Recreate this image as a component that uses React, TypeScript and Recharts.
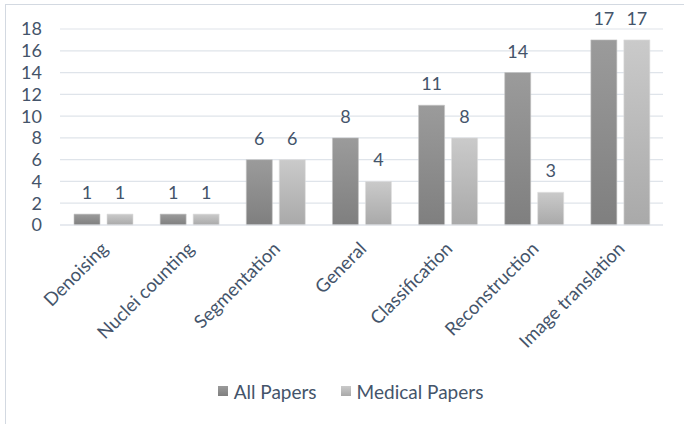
import React from 'react'
import { BarChart, Bar, XAxis, YAxis, CartesianGrid, Legend, LabelList } from 'recharts'

const categories = [
  'Denoising',
  'Nuclei counting',
  'Segmentation',
  'General',
  'Classification',
  'Reconstruction',
  'Image translation',
]
const allPapers = [1, 1, 6, 8, 11, 14, 17]
const medicalPapers = [1, 1, 6, 4, 8, 3, 17]
const yTicks = [0, 2, 4, 6, 8, 10, 12, 14, 16, 18]

const data = categories.map((name, i) => ({
  name,
  all: allPapers[i],
  medical: medicalPapers[i],
}))

const FONT = 'Lato, "Open Sans", sans-serif'
const TEXT = '#44546a'
const GRID = '#dfe4ea'

const legendItems = [
  { label: 'All Papers', from: '#9b9b9b', to: '#7f7f7f' },
  { label: 'Medical Papers', from: '#cacaca', to: '#a9a9a9' },
]

// rotated category labels, anchored at their end
const AngledTick = (props: any) => {
  const { x, y, payload } = props
  const ax = x + 6
  const ay = y + 17
  return (
    <text
      x={ax}
      y={ay}
      transform={`rotate(-45, ${ax}, ${ay})`}
      textAnchor="end"
      fill={TEXT}
      fontSize={18.5}
      fontFamily={FONT}
    >
      {payload.value}
    </text>
  )
}

const PaperLegend = () => (
  <div
    style={{
      display: 'flex',
      justifyContent: 'center',
      alignItems: 'center',
      gap: 24,
      fontFamily: FONT,
      fontSize: 19,
      color: TEXT,
      height: 30,
      paddingLeft: 38,
    }}
  >
    {legendItems.map((item) => (
      <span key={item.label} style={{ display: 'flex', alignItems: 'center' }}>
        <span
          style={{
            display: 'inline-block',
            width: 10,
            height: 10,
            marginRight: 6,
            background: `linear-gradient(${item.from}, ${item.to})`,
          }}
        />
        {item.label}
      </span>
    ))}
  </div>
)

const App: React.FC = () => {
  return (
    <div style={{ position: 'absolute', left: 0, top: 0, width: 684, height: 424, overflow: 'hidden', background: '#fff' }}>
      {/* frame along the top and left edges */}
      <div
        style={{
          position: 'absolute',
          left: 5,
          top: 4,
          width: 690,
          height: 440,
          borderLeft: '1.5px solid #d3d9e1',
          borderTop: '1.5px solid #d3d9e1',
          zIndex: 5,
          pointerEvents: 'none',
        }}
      />
      <BarChart
        width={684}
        height={424}
        data={data}
        margin={{ top: 29, right: 21, bottom: 18, left: 0 }}
        barSize={26}
        barGap={7}
      >
        <defs>
          <linearGradient id="gradAll" x1="0" y1="0" x2="0" y2="1">
            <stop offset="0%" stopColor="#9b9b9b" />
            <stop offset="100%" stopColor="#7f7f7f" />
          </linearGradient>
          <linearGradient id="gradMedical" x1="0" y1="0" x2="0" y2="1">
            <stop offset="0%" stopColor="#cacaca" />
            <stop offset="100%" stopColor="#a9a9a9" />
          </linearGradient>
        </defs>
        <CartesianGrid vertical={false} stroke={GRID} strokeWidth={1.2} />
        <XAxis
          dataKey="name"
          axisLine={{ stroke: GRID, strokeWidth: 1.2 }}
          tickLine={false}
          interval={0}
          height={151}
          tick={<AngledTick />}
        />
        <YAxis
          domain={[0, 18]}
          ticks={yTicks}
          width={60}
          axisLine={false}
          tickLine={false}
          tickSize={0}
          tickMargin={18}
          interval={0}
          tick={{ fill: TEXT, fontSize: 18, fontFamily: FONT }}
        />
        <Legend verticalAlign="bottom" content={<PaperLegend />} />
        <Bar dataKey="all" name="All Papers" fill="url(#gradAll)" stroke="#c4c4c4" strokeWidth={0.6} isAnimationActive={false}>
          <LabelList dataKey="all" position="top" offset={15} fill={TEXT} fontSize={18} fontFamily={FONT} />
        </Bar>
        <Bar dataKey="medical" name="Medical Papers" fill="url(#gradMedical)" stroke="#dedede" strokeWidth={0.6} isAnimationActive={false}>
          <LabelList dataKey="medical" position="top" offset={15} fill={TEXT} fontSize={18} fontFamily={FONT} />
        </Bar>
      </BarChart>
    </div>
  )
}

export default App
